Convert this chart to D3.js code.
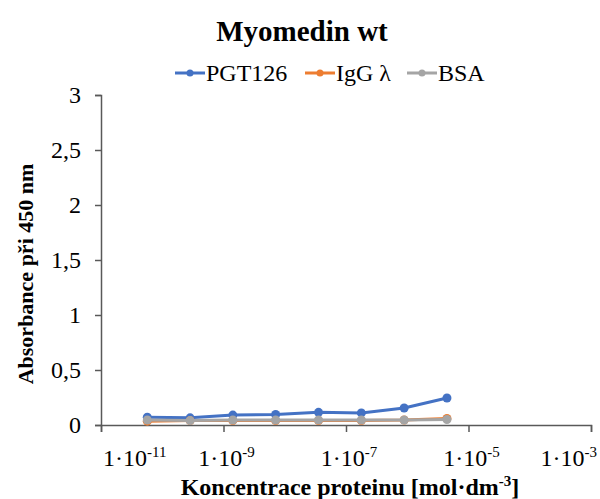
<!DOCTYPE html>
<html>
<head>
<meta charset="utf-8">
<script src="https://cdn.jsdelivr.net/npm/d3@7"></script>
<style>
  body { margin: 0; background: #fff; }
  svg text { font-family: 'Liberation Serif', 'Times New Roman', Times, 'DejaVu Serif', 'Noto Serif', serif; fill: #000; }
</style>
</head>
<body>
<div id="chart"></div>
<script>
// concentrations (mol/dm3), 5x dilution series
const conc = [5.7e-11, 2.85e-10, 1.42e-9, 7.1e-9, 3.56e-8, 1.78e-7, 8.9e-7, 4.45e-6]
const pgt126 = [0.07, 0.065, 0.09, 0.095, 0.115, 0.11, 0.155, 0.245]
const igg = [0.035, 0.04, 0.04, 0.04, 0.04, 0.04, 0.045, 0.06]
const bsa = [0.045, 0.04, 0.045, 0.045, 0.045, 0.045, 0.045, 0.05]
const seriesNames = ['PGT126', 'IgG λ', 'BSA']
const seriesColors = ['#4472C4', '#ED7D31', '#A5A5A5']
const xTicks = [1e-11, 1e-9, 1e-7, 1e-5, 1e-3]
const xTickExp = ['-11', '-9', '-7', '-5', '-3']
const yTicks = [0, 0.5, 1, 1.5, 2, 2.5, 3]

const W = 600, H = 499
const FONT = "'Liberation Serif', 'Times New Roman', Times, 'DejaVu Serif', serif"
const svg = d3.select('#chart').append('svg')
    .attr('width', W)
    .attr('height', H)
    .attr('font-family', FONT)

const x = d3.scaleLog().domain([1e-11, 1e-3]).range([101, 591])
const y = d3.scaleLinear().domain([0, 3]).range([425, 95])

const axisColor = '#595959'

// y axis
const gy = svg.append('g').attr('transform', 'translate(101,0)')
    .call(d3.axisLeft(y).tickValues(yTicks).tickSize(6).tickPadding(14)
        .tickFormat(d => String(d).replace('.', ',')))
gy.attr('font-family', FONT)
gy.select('.domain').attr('stroke', axisColor).attr('stroke-width', 1.5)
gy.selectAll('.tick line').attr('stroke', axisColor).attr('stroke-width', 1.5)
gy.selectAll('.tick text').attr('font-size', 24).attr('fill', '#000')

// x axis
const gx = svg.append('g').attr('transform', 'translate(0,425)')
    .call(d3.axisBottom(x).tickValues(xTicks).tickSize(7).tickFormat(''))
gx.select('.domain').attr('stroke', axisColor).attr('stroke-width', 1.5)
gx.selectAll('.tick line').attr('stroke', axisColor).attr('stroke-width', 1.5)

xTicks.forEach((t, i) => {
    const last = i === xTicks.length - 1
    const first = i === 0
    const lbl = svg.append('text')
        .attr('x', first ? 103 : last ? 597 : x(t) + 3)
        .attr('y', 466)
        .attr('text-anchor', first ? 'start' : last ? 'end' : 'middle')
        .attr('font-size', 24)
    lbl.append('tspan').text('1·10')
    lbl.append('tspan').attr('font-size', 15).attr('dy', -9).text(xTickExp[i])
})

// series
const allSeries = [pgt126, igg, bsa]
const line = d3.line().x((d, i) => x(conc[i])).y(d => y(d))

allSeries.forEach((vals, s) => {
    const g = svg.append('g')
    g.append('path')
        .datum(vals)
        .attr('d', line)
        .attr('fill', 'none')
        .attr('stroke', seriesColors[s])
        .attr('stroke-width', 3)
        .attr('stroke-linejoin', 'round')
    g.selectAll('circle').data(vals).enter()
        .append('circle')
        .attr('cx', (d, i) => x(conc[i]))
        .attr('cy', d => y(d))
        .attr('r', 4.5)
        .attr('fill', seriesColors[s])
})

// title
svg.append('text')
    .attr('x', 302).attr('y', 41)
    .attr('text-anchor', 'middle')
    .attr('font-size', 29)
    .attr('font-weight', 'bold')
    .text('Myomedin wt')

// legend
const legX = [175, 305, 407]
seriesNames.forEach((name, s) => {
    const g = svg.append('g').attr('transform', `translate(${legX[s]},73)`)
    g.append('line').attr('x1', 0).attr('x2', 30).attr('y1', 0).attr('y2', 0)
        .attr('stroke', seriesColors[s]).attr('stroke-width', 3)
    g.append('circle').attr('cx', 15).attr('cy', 0).attr('r', 3.5).attr('fill', seriesColors[s])
    g.append('text').attr('x', 31).attr('y', 8).attr('font-size', 24).text(name)
})

// axis titles
svg.append('text')
    .attr('transform', 'translate(33,274) rotate(-90)')
    .attr('text-anchor', 'middle')
    .attr('font-size', 22)
    .attr('font-weight', 'bold')
    .text('Absorbance při 450 nm')

const xt = svg.append('text')
    .attr('x', 350).attr('y', 495)
    .attr('text-anchor', 'middle')
    .attr('font-size', 24)
    .attr('font-weight', 'bold')
xt.append('tspan').text('Koncentrace proteinu [mol·dm')
xt.append('tspan').attr('font-size', 15).attr('dy', -9).text('-3')
xt.append('tspan').attr('dy', 9).text(']')
</script>
</body>
</html>
